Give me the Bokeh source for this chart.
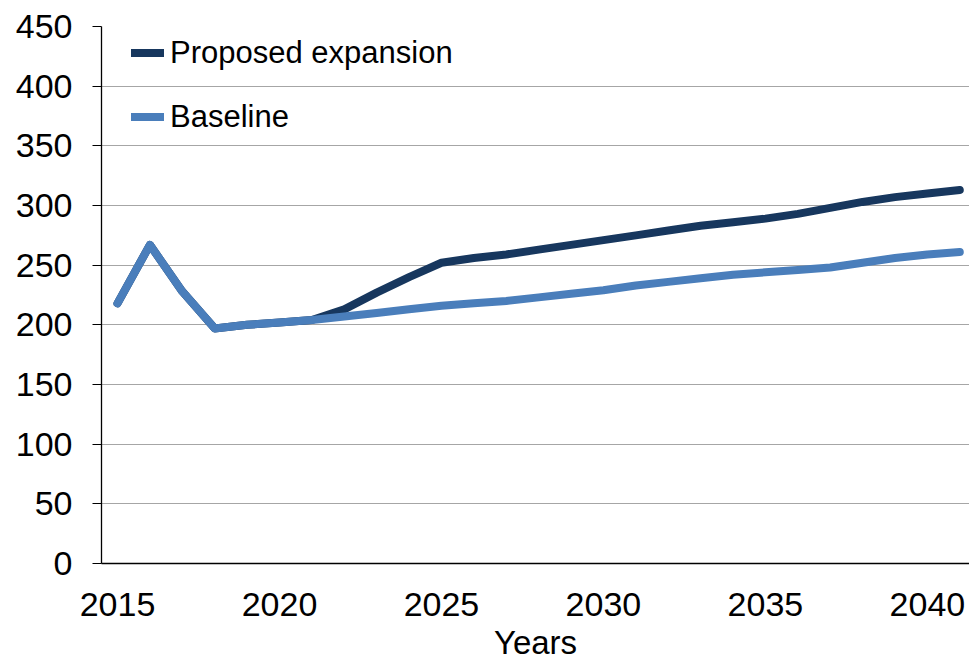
from bokeh.plotting import figure
from bokeh.models import FixedTicker, Legend, LegendItem, Range1d
from bokeh.embed import file_html
from bokeh.resources import INLINE

years = list(range(2015, 2042))
baseline = [218, 267, 228, 197, 200, 202, 204, 207, 210, 213, 216, 218, 220, 223,
            226, 229, 233, 236, 239, 242, 244, 246, 248, 252, 256, 259, 261]
expansion = [218, 267, 228, 197, 200, 202, 204, 213, 227, 240, 252, 256, 259, 263,
             267, 271, 275, 279, 283, 286, 289, 293, 298, 303, 307, 310, 313]
x_ticks = [2015, 2020, 2025, 2030, 2035, 2040]
y_ticks = [0, 50, 100, 150, 200, 250, 300, 350, 400, 450]

FONT = "Liberation Sans"

p = figure(width=969, height=664, output_backend="svg", toolbar_location=None,
           x_range=Range1d(2014.506, 2041.30), y_range=Range1d(0, 450),
           min_border_left=101, min_border_right=0, min_border_top=26,
           min_border_bottom=101)
p.outline_line_color = None
p.background_fill_color = "white"
p.border_fill_color = "white"

r1 = p.line(years, expansion, line_color="#17375E", line_width=8,
            line_cap="round", line_join="round")
r2 = p.line(years, baseline, line_color="#4A7EBB", line_width=8,
            line_cap="round", line_join="round")

p.xgrid.grid_line_color = None
p.ygrid.grid_line_color = "#A6A6A6"
p.ygrid.grid_line_width = 1
p.ygrid.ticker = FixedTicker(ticks=y_ticks)

p.xaxis.ticker = FixedTicker(ticks=x_ticks)
p.yaxis.ticker = FixedTicker(ticks=y_ticks)
p.xaxis.axis_label = "Years"
for ax in (p.xaxis[0], p.yaxis[0]):
    ax.axis_line_color = "black"
    ax.axis_line_width = 1.3
    ax.major_label_text_font = FONT
    ax.major_label_text_font_size = "34px"
    ax.major_label_text_color = "black"
    ax.minor_tick_line_color = None
    ax.major_tick_in = 0
p.yaxis.major_tick_out = 9
p.yaxis.major_tick_line_color = "black"
p.yaxis.major_label_standoff = 20
p.xaxis.major_tick_out = 0
p.xaxis.major_tick_line_color = None
p.xaxis.major_label_standoff = 29
p.xaxis.axis_label_text_font = FONT
p.xaxis.axis_label_text_font_size = "33px"
p.xaxis.axis_label_text_font_style = "normal"
p.xaxis.axis_label_text_color = "black"
p.xaxis.axis_label_standoff = 5

legend = Legend(items=[LegendItem(label="Proposed expansion", renderers=[r1]),
                       LegendItem(label="Baseline", renderers=[r2])],
                location=(30, 428), border_line_color=None,
                background_fill_alpha=0, margin=0, padding=0,
                glyph_width=33, glyph_height=37, label_height=37,
                label_standoff=6, spacing=27,
                label_text_font=FONT, label_text_font_size="31px",
                label_text_color="black")
p.add_layout(legend)

open("out.html", "w").write(file_html(p, INLINE))
